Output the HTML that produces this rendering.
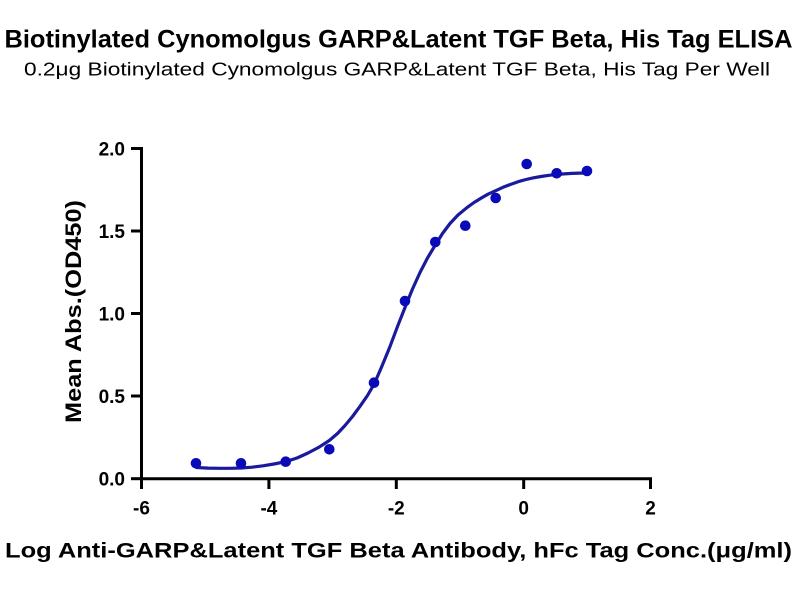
<!DOCTYPE html>
<html>
<head>
<meta charset="utf-8">
<style>
  html, body { margin: 0; padding: 0; background: #ffffff; }
  svg { display: block; }
  text { font-family: "Liberation Sans", Arial, sans-serif; fill: #000; }
</style>
</head>
<body>
<svg width="800" height="600" viewBox="0 0 800 600" xmlns="http://www.w3.org/2000/svg">
  <rect width="800" height="600" fill="#ffffff"/>

  <!-- Titles -->
  <text x="398.5" y="47.5" font-size="25" font-weight="bold" text-anchor="middle" textLength="788" lengthAdjust="spacingAndGlyphs">Biotinylated Cynomolgus GARP&amp;Latent TGF Beta, His Tag ELISA</text>
  <text x="397" y="75.5" font-size="18.5" text-anchor="middle" textLength="746" lengthAdjust="spacingAndGlyphs">0.2μg Biotinylated Cynomolgus GARP&amp;Latent TGF Beta, His Tag Per Well</text>

  <!-- Axes -->
  <g stroke="#000" stroke-width="3" fill="none" stroke-linecap="butt">
    <line x1="141.5" y1="147" x2="141.5" y2="480"/>
    <line x1="140" y1="478.7" x2="652" y2="478.7"/>
    <line x1="131" y1="148.5" x2="141.5" y2="148.5"/>
    <line x1="131" y1="231" x2="141.5" y2="231"/>
    <line x1="131" y1="313.5" x2="141.5" y2="313.5"/>
    <line x1="131" y1="396" x2="141.5" y2="396"/>
    <line x1="131" y1="478.7" x2="141.5" y2="478.7"/>
    <line x1="141.5" y1="478.7" x2="141.5" y2="489"/>
    <line x1="268.9" y1="478.7" x2="268.9" y2="489"/>
    <line x1="396.3" y1="478.7" x2="396.3" y2="489"/>
    <line x1="523.7" y1="478.7" x2="523.7" y2="489"/>
    <line x1="650.5" y1="478.7" x2="650.5" y2="489"/>
  </g>

  <!-- Y tick labels -->
  <g font-size="19" font-weight="bold" text-anchor="end">
    <text x="125" y="155.5">2.0</text>
    <text x="125" y="238">1.5</text>
    <text x="125" y="320.5">1.0</text>
    <text x="125" y="403">0.5</text>
    <text x="125" y="485.7">0.0</text>
  </g>

  <!-- X tick labels -->
  <g font-size="19" font-weight="bold" text-anchor="middle">
    <text x="141.5" y="514.5">-6</text>
    <text x="268.9" y="514.5">-4</text>
    <text x="396.3" y="514.5">-2</text>
    <text x="523.7" y="514.5">0</text>
    <text x="650.5" y="514.5">2</text>
  </g>

  <!-- Axis titles -->
  <text x="398.5" y="557.5" font-size="21" font-weight="bold" text-anchor="middle" textLength="787" lengthAdjust="spacingAndGlyphs">Log Anti-GARP&amp;Latent TGF Beta Antibody, hFc Tag Conc.(μg/ml)</text>
  <text transform="translate(81,311.5) rotate(-90)" x="0" y="0" font-size="22" font-weight="bold" text-anchor="middle" textLength="223" lengthAdjust="spacingAndGlyphs">Mean Abs.(OD450)</text>

  <!-- Fitted curve -->
  <polyline fill="none" stroke="#1a1a9c" stroke-width="3.2" stroke-linejoin="round" stroke-linecap="round"
    points="196.7,467.5 208,468.1 220,468.3 230,468.3 241,468 252,467.2 263,465.8 274,464 285.7,461.7 297,458 308,453 319,447.2 329.3,440.5 337.5,433.5 345,425.5 352.5,416.5 360,406.3 367.5,395.5 374.3,383.8 382,366 390,346.5 397.5,326.5 405,307.5 412.5,289 420,272.5 427.5,258 435,245.5 442.5,233.5 450,223.5 458,215 466.7,207.8 474,202.5 481,198.2 488,194.2 495.7,190.7 503,187.3 511,184.2 518.5,181.6 526,179.5 533.5,177.8 541,176.5 549,175.3 556.7,174.5 564,173.9 572,173.4 579.5,173.1 587,173"/>

  <!-- Data points -->
  <g fill="#0a0ab8">
    <circle cx="196" cy="463.3" r="5.3"/>
    <circle cx="241" cy="463.3" r="5.3"/>
    <circle cx="285.7" cy="461.7" r="5.3"/>
    <circle cx="329.3" cy="449.3" r="5.3"/>
    <circle cx="374" cy="382.7" r="5.3"/>
    <circle cx="405" cy="301" r="5.3"/>
    <circle cx="435.3" cy="242" r="5.3"/>
    <circle cx="465.3" cy="225.7" r="5.3"/>
    <circle cx="495.7" cy="198" r="5.3"/>
    <circle cx="526.7" cy="164" r="5.3"/>
    <circle cx="556.7" cy="173.3" r="5.3"/>
    <circle cx="587" cy="171" r="5.3"/>
  </g>
</svg>
</body>
</html>
